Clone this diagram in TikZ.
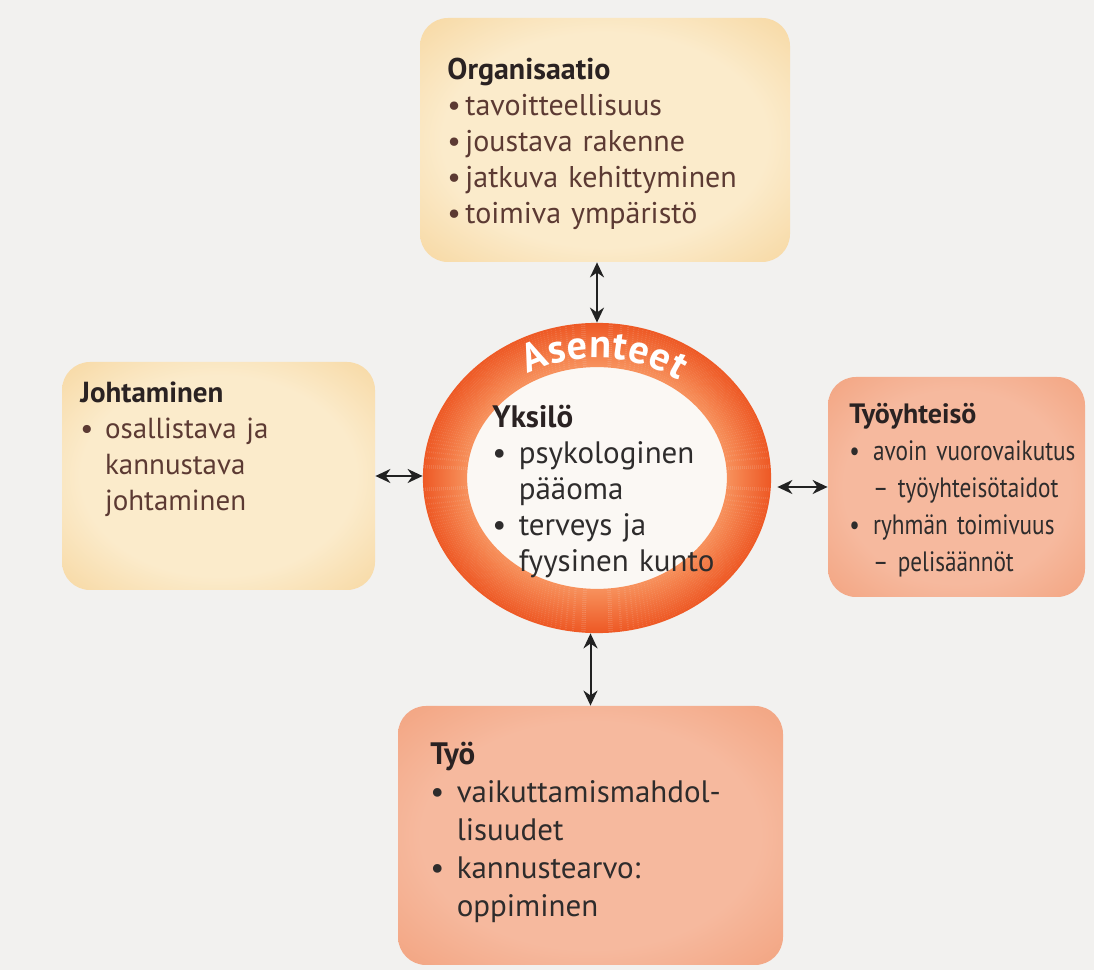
\documentclass[tikz,border=0pt]{standalone}
\usepackage{fontspec}
\setmainfont{PT Sans}
\newfontfamily\narrowsans[FakeStretch=0.83]{PT Sans}
\usepackage{xcolor}
\usepackage{tikz}
\usetikzlibrary{arrows.meta,calc,shapes.geometric,decorations.text}

\definecolor{pagegrey}{HTML}{F2F1EF}
\definecolor{headink}{HTML}{2A2222}
\definecolor{brownink}{HTML}{5C3A33}
\definecolor{darkink}{HTML}{2E2C2C}
\definecolor{ringdark}{HTML}{EE5A26}
\definecolor{ringlight}{HTML}{F7915C}
\definecolor{innerwhite}{HTML}{FBF8F4}
\definecolor{arrowink}{HTML}{222222}
\definecolor{orgin}{HTML}{FBEBCB}
\definecolor{orgout}{HTML}{F3C478}
\definecolor{salmonin}{HTML}{F6B99E}
\definecolor{salmonout}{HTML}{EF8E62}
\colorlet{glowin}{white}
\colorlet{glowout}{white}

\pgfdeclareradialshading[glowin,glowout]{glow}{\pgfpoint{0bp}{0bp}}{color(0bp)=(glowin); color(22bp)=(glowin); color(50bp)=(glowout)}

\newcommand{\head}[1]{\textcolor{headink}{\textbf{#1}}}
\newcommand{\bul}[1][0.85em]{\makebox[#1][l]{•}}
\newcommand{\cnt}[1][0.85em]{\hspace*{#1}}
\newcommand{\asfont}{\fontsize{20}{20}\selectfont\bfseries}

\tikzset{
  glowbox/.style 2 args={shade, shading=glow, rounded corners=14pt, inner sep=0pt,
    /utils/exec={\colorlet{glowin}{#1}\colorlet{glowout}{#2}}},
  boxtext/.style={anchor=base west, align=left, text width=190pt, inner sep=0pt,
    font=\fontsize{15}{18}\selectfont},
  link/.style={{Stealth[length=7.5pt,width=7pt]}-{Stealth[length=7.5pt,width=7pt]},
    line width=1pt, draw=arrowink},
}

\begin{document}
\begin{tikzpicture}[x=0.5pt,y=0.5pt]
  \useasboundingbox (0,0) rectangle (1094,970);
  \fill[pagegrey] (0,0) rectangle (1094,970);

  % the four boxes
  \node[glowbox={orgin}{orgout}, minimum width=185pt, minimum height=122pt] (org) at (605,830) {};
  \node[glowbox={orgin}{orgout}, minimum width=156.5pt, minimum height=114pt] (lead) at (218.5,494) {};
  \node[glowbox={salmonin}{salmonout}, minimum width=128.5pt, minimum height=110pt] (comm) at (956.5,483) {};
  \node[glowbox={salmonin}{salmonout}, minimum width=192.5pt, minimum height=129.5pt] (work) at (590.5,134.5) {};

  % ring in the middle
  \fill[innerwhite] (597,492) ellipse[x radius=131, y radius=112];
  \foreach \i in {0,...,21}{
    \pgfmathsetmacro\mixpct{100*\i/21}
    \draw[ringdark!\mixpct!ringlight, line width=1.1pt] (597,492) ellipse[x radius=131+2*\i, y radius=112+2*\i];
  }
  \node[ellipse, minimum width=174pt, minimum height=155pt, inner sep=0pt] (ring) at (597,492) {};
  \path[decorate, decoration={text along path, text={|\asfont|Asenteet}, text color=white,
      text align=fit to path}]
    (597,492) ++(120:138 and 120) arc[start angle=120, end angle=54, x radius=138, y radius=120];

  \node[boxtext, text=brownink] (orgtext) at (447,890) {\head{Organisaatio}\\
    \bul[0.6em]tavoitteellisuus\\
    \bul[0.6em]joustava rakenne\\
    \bul[0.6em]jatkuva kehittyminen\\
    \bul[0.6em]toimiva ympäristö};
  \node[boxtext, text=brownink, font=\fontsize{14.5}{18}\selectfont] (leadtext) at (80,567) {\head{Johtaminen}\\
    \bul osallistava ja\\
    \cnt kannustava\\
    \cnt johtaminen};
  \node[boxtext, text=darkink, font=\fontsize{15.5}{18}\selectfont] (selftext) at (492,542) {\head{Yksilö}\\
    \bul psykologinen\\
    \cnt pääoma\\
    \bul terveys ja\\
    \cnt fyysinen kunto};
  \node[boxtext, text=darkink, font=\fontsize{14}{18.5}\selectfont] (commtext) at (849,546) {\head{Työyhteisö}\\
    {\narrowsans\bul avoin vuorovaikutus}\\
    {\narrowsans\cnt – työyhteisötaidot}\\
    {\narrowsans\bul ryhmän toimivuus}\\
    {\narrowsans\cnt – pelisäännöt}};
  \node[boxtext, text=darkink, font=\fontsize{15.5}{19}\selectfont] (worktext) at (430,205) {\head{Työ}\\
    \bul vaikuttamismahdol-\\
    \cnt lisuudet\\
    \bul kannustearvo:\\
    \cnt oppiminen};

  \draw[link] (ring.north |- org.south) -- (ring.north);
  \draw[link] (lead.east) -- (lead.east -| ring.west);
  \draw[link] ([xshift=3pt]ring.east |- comm.west) -- (comm.west);
  \draw[link] (work.north |- ring.south) -- (work.north);
\end{tikzpicture}
\end{document}
